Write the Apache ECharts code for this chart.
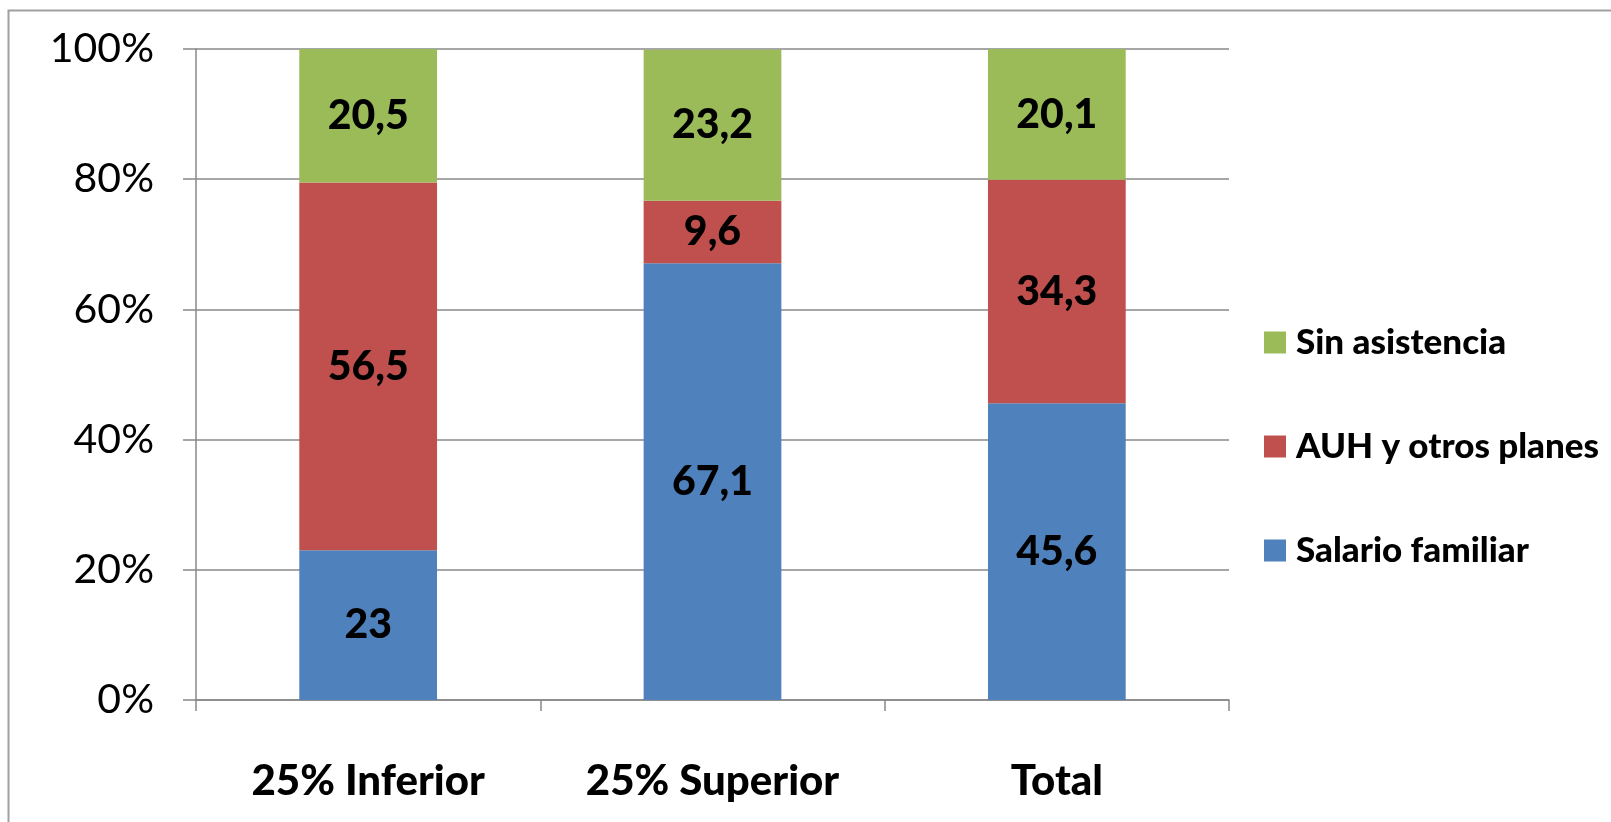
<!DOCTYPE html>
<html>
<head>
<meta charset="utf-8">
<script src="https://cdn.jsdelivr.net/npm/echarts@6/dist/echarts.min.js"></script>
<style>
html,body{margin:0;padding:0;background:#fff;}
#chart{width:1611px;height:822px;}
</style>
</head>
<body>
<div id="chart"></div>
<script>
const categories = ['25% Inferior', '25% Superior', 'Total'];
const salarioFamiliar = [23, 67.1, 45.6];
const auhOtrosPlanes = [56.5, 9.6, 34.3];
const sinAsistencia = [20.5, 23.2, 20.1];
const yTicks = [0, 20, 40, 60, 80, 100];

const FONT = 'Lato, "Open Sans", sans-serif';
const chart = echarts.init(document.getElementById('chart'));

function fmt(v) { return String(v).replace('.', ','); }

const labelCfg = {
  show: true,
  position: 'inside',
  color: '#000',
  fontFamily: FONT,
  fontWeight: 900,
  fontSize: 41,
  formatter: p => fmt(p.value)
};

chart.setOption({
  backgroundColor: '#fff',
  animation: false,
  graphic: [{
    type: 'rect',
    shape: { x: 8.5, y: 10.5, width: 1700, height: 900 },
    style: { fill: 'none', stroke: '#a0a0a0', lineWidth: 2 },
    silent: true
  }],
  grid: { left: 196, right: 382, top: 49, bottom: 122 },
  legend: {
    orient: 'vertical',
    left: 1259,
    top: 320,
    itemWidth: 22,
    itemHeight: 22,
    itemGap: 69,
    icon: 'rect',
    data: ['Sin asistencia', 'AUH y otros planes', 'Salario familiar'],
    textStyle: {
      fontFamily: FONT, fontWeight: 900, fontSize: 35, color: '#000',
      lineHeight: 35, padding: [0, 0, 0, 5]
    }
  },
  xAxis: {
    type: 'category',
    data: categories,
    axisLine: { lineStyle: { color: '#888', width: 1.5 } },
    axisTick: { show: true, length: 11, lineStyle: { color: '#888', width: 1.5 } },
    axisLabel: {
      margin: 60, color: '#000', fontFamily: FONT, fontWeight: 900,
      fontSize: 42, lineHeight: 42
    }
  },
  yAxis: {
    type: 'value',
    min: 0,
    max: 100,
    interval: 20,
    axisLine: { show: true, lineStyle: { color: '#888', width: 1.5 } },
    axisTick: { show: true, length: 13, lineStyle: { color: '#888', width: 1.5 } },
    splitLine: { show: true, lineStyle: { color: '#888', width: 1.5 } },
    axisLabel: {
      margin: 42, color: '#000', fontFamily: FONT, fontSize: 41,
      formatter: v => (yTicks.includes(v) ? v + '%' : '')
    }
  },
  series: [
    {
      name: 'Salario familiar', type: 'bar', stack: 'total',
      data: salarioFamiliar, barCategoryGap: '60%',
      itemStyle: { color: '#4F81BD' }, label: labelCfg
    },
    {
      name: 'AUH y otros planes', type: 'bar', stack: 'total',
      data: auhOtrosPlanes, barCategoryGap: '60%',
      itemStyle: { color: '#C0504D' }, label: labelCfg
    },
    {
      name: 'Sin asistencia', type: 'bar', stack: 'total',
      data: sinAsistencia, barCategoryGap: '60%',
      itemStyle: { color: '#9BBB59' }, label: labelCfg
    }
  ]
});
</script>
</body>
</html>
